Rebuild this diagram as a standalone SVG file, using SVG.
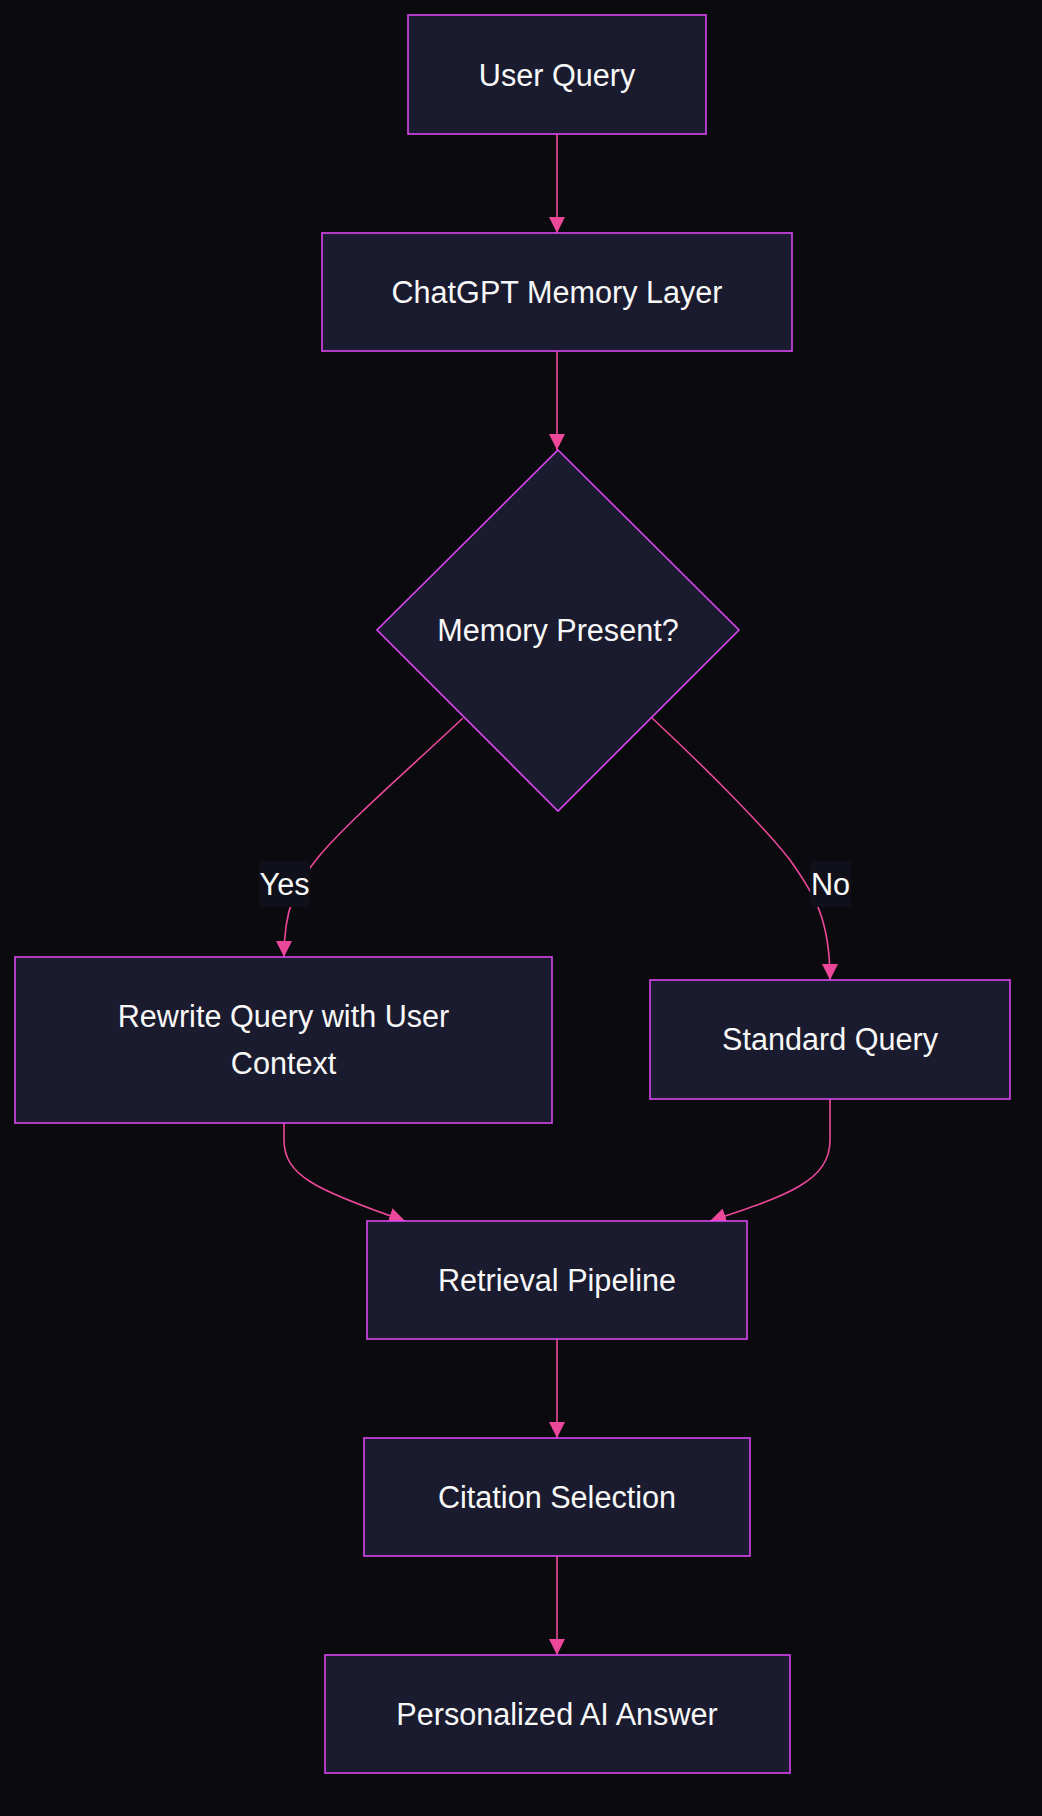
<svg xmlns="http://www.w3.org/2000/svg" width="1042" height="1816" viewBox="0 0 1042 1816">
<style>
.node rect, .node polygon { fill: #1b1b2f; stroke: #d946ef; stroke-width: 1.6; }
.node text, .lbl text { font-family: "Liberation Sans", Arial, sans-serif; font-size: 30.6px; fill: #f8f8f8; text-anchor: middle; }
.edges path { fill: none; stroke: #ec4899; stroke-width: 1.6; }
.lbl rect { fill: #10101b; }
</style>
<defs>
<marker id="arr" viewBox="0 0 16 16" refX="16" refY="8" markerWidth="16" markerHeight="16" markerUnits="userSpaceOnUse" orient="auto">
<path d="M0,0 L16,8 L0,16 Z" fill="#ec4899"/>
</marker>
</defs>
<rect x="0" y="0" width="1042" height="1816" fill="#0a0a0f"/>
<g class="edges">
<path d="M557,134 L557,233" marker-end="url(#arr)"/>
<path d="M557,351 L557,450" marker-end="url(#arr)"/>
<path d="M463,718 C410,768 350,820 320,855 C295,885 284,910 284,957" marker-end="url(#arr)"/>
<path d="M652,718 C710,772 765,828 790,860 C815,895 830,920 830,980" marker-end="url(#arr)"/>
<path d="M284,1123 L284,1140 C284,1175 315,1190 405,1221" marker-end="url(#arr)"/>
<path d="M830,1099 L830,1140 C830,1180 790,1195 710,1221" marker-end="url(#arr)"/>
<path d="M557,1339 L557,1438" marker-end="url(#arr)"/>
<path d="M557,1556 L557,1655" marker-end="url(#arr)"/>
</g>
<g class="lbl" id="label-yes">
<rect x="259" y="861" width="51" height="46"/>
<text x="284.5" y="895">Yes</text>
</g>
<g class="lbl" id="label-no">
<rect x="810" y="861" width="41" height="46"/>
<text x="830.5" y="895">No</text>
</g>
<g class="node" id="user-query">
<rect x="408" y="15" width="298" height="119"/>
<text x="557" y="86">User Query</text>
</g>
<g class="node" id="memory-layer">
<rect x="322" y="233" width="470" height="118"/>
<text x="557" y="303">ChatGPT Memory Layer</text>
</g>
<g class="node" id="memory-present">
<polygon points="558,450 739,630 558,811 377,630"/>
<text x="558" y="641">Memory Present?</text>
</g>
<g class="node" id="rewrite-query">
<rect x="15" y="957" width="537" height="166"/>
<text x="283.5" y="1027">Rewrite Query with User</text>
<text x="283.5" y="1074">Context</text>
</g>
<g class="node" id="standard-query">
<rect x="650" y="980" width="360" height="119"/>
<text x="830" y="1050">Standard Query</text>
</g>
<g class="node" id="retrieval-pipeline">
<rect x="367" y="1221" width="380" height="118"/>
<text x="557" y="1291">Retrieval Pipeline</text>
</g>
<g class="node" id="citation-selection">
<rect x="364" y="1438" width="386" height="118"/>
<text x="557" y="1508">Citation Selection</text>
</g>
<g class="node" id="personalized-answer">
<rect x="325" y="1655" width="465" height="118"/>
<text x="557" y="1725">Personalized AI Answer</text>
</g>
</svg>
